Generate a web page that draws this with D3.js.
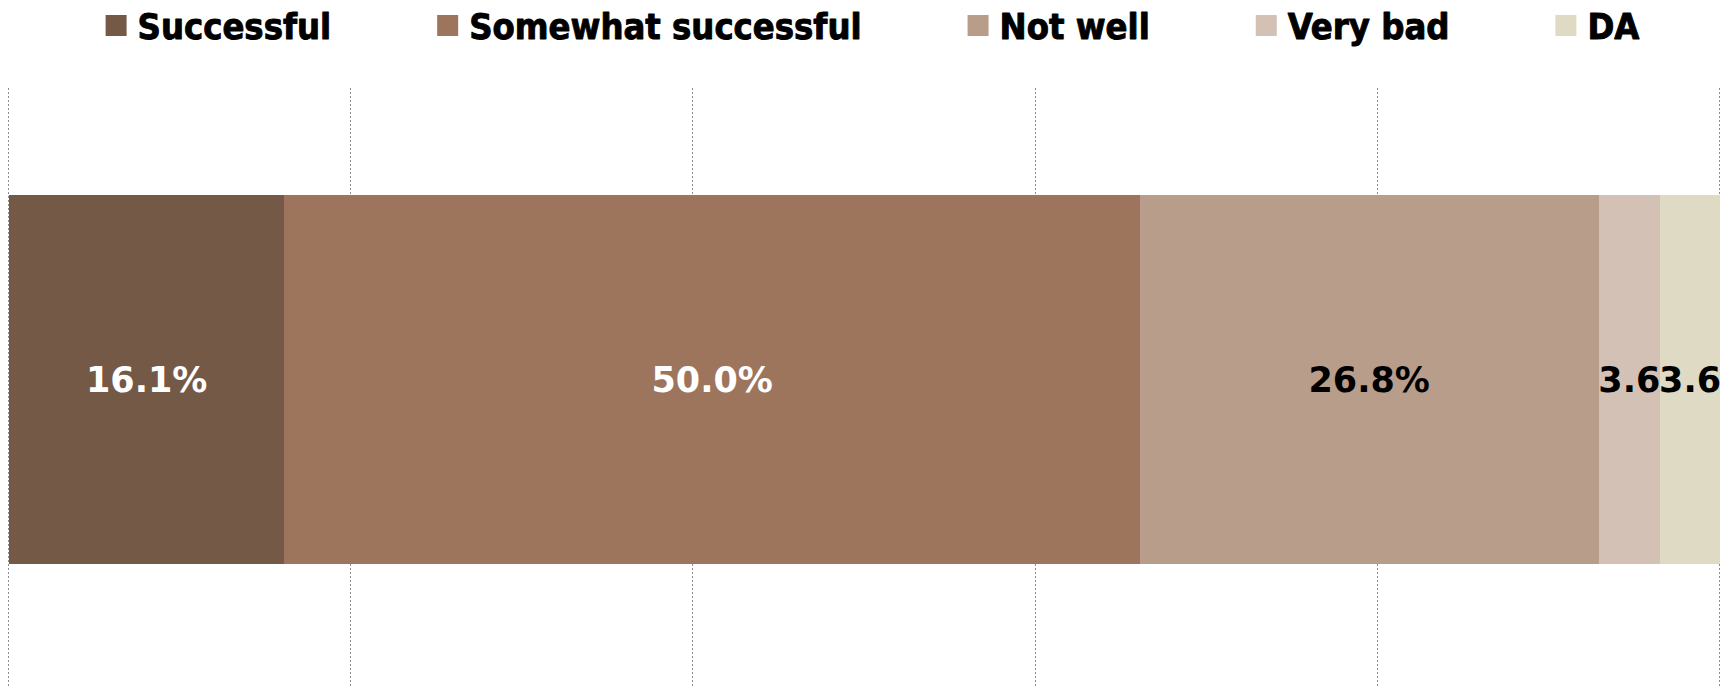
<!DOCTYPE html>
<html>
<head>
<meta charset="utf-8">
<script src="https://cdn.jsdelivr.net/npm/d3@7"></script>
<style>
  html, body { margin: 0; padding: 0; background: #ffffff; }
  svg { display: block; }
</style>
</head>
<body>
<svg id="chart" width="1731" height="688"></svg>
<script>
// Survey answers, one stacked 100% bar
const categories = ["Q"];
const seriesNames = ["Successful", "Somewhat successful", "Not well", "Very bad", "DA"];
const seriesValues = [16.1, 50.0, 26.8, 3.6, 3.6];
const seriesColors = ["#745947", "#9d755d", "#b99d8b", "#d4c1b5", "#dfdac4"];
const labelColors = ["#ffffff", "#ffffff", "#000000", "#000000", "#000000"];
const tickValues = [0, 20, 40, 60, 80, 100];

const W = 1731, H = 688;
const plot = { left: 9, right: 1720, top: 88, bottom: 688 };

const svg = d3.select("#chart");

const x = d3.scaleLinear().domain([0, 100]).range([plot.left, plot.right]);
const y = d3.scaleBand().domain(categories).range([plot.top, 671]).padding(0.225);

// vertical dotted gridlines
svg.append("g")
  .selectAll("line")
  .data(tickValues)
  .join("line")
  .attr("x1", d => Math.round(x(d)) - 0.5)
  .attr("x2", d => Math.round(x(d)) - 0.5)
  .attr("y1", plot.top)
  .attr("y2", plot.bottom)
  .attr("stroke", "#8c8c8c")
  .attr("stroke-width", 1)
  .attr("stroke-dasharray", "2,2");

// stacked segments
const segs = [];
let acc = 0;
seriesValues.forEach((v, i) => {
  segs.push({ name: seriesNames[i], value: v, x0: acc, x1: acc + v, i });
  acc += v;
});

svg.append("defs").append("clipPath").attr("id", "plotClip")
  .append("rect")
  .attr("x", x(0)).attr("y", 0)
  .attr("width", x(100) - x(0)).attr("height", H);

const px = v => Math.round(x(Math.min(v, 100)));
const bars = svg.append("g").attr("clip-path", "url(#plotClip)");
bars.selectAll("rect")
  .data(segs)
  .join("rect")
  .attr("x", d => px(d.x0))
  .attr("y", Math.round(y(categories[0])))
  .attr("width", d => px(d.x1) - px(d.x0))
  .attr("height", Math.round(y.bandwidth()))
  .attr("shape-rendering", "crispEdges")
  .attr("fill", d => seriesColors[d.i]);

// value labels
const fmt = d3.format(".1f");
svg.append("g")
  .selectAll("text")
  .data(segs)
  .join("text")
  .attr("x", d => (x(d.x0) + Math.min(x(d.x1), x(100))) / 2)
  .attr("y", y(categories[0]) + y.bandwidth() / 2)
  .attr("dy", "0.36em")
  .attr("text-anchor", "middle")
  .attr("font-family", "'DejaVu Sans', Verdana, sans-serif")
  .attr("font-weight", "bold")
  .attr("font-size", 35)
  .attr("fill", d => labelColors[d.i])
  .text(d => fmt(d.value) + ((x(d.x1) - x(d.x0)) > 100 ? "%" : ""));

// legend across the top
const legend = svg.append("g");
const sw = 21, gapText = 11, gapItem = 106;
const items = legend.selectAll("g")
  .data(seriesNames)
  .join("g");
items.append("rect")
  .attr("width", sw).attr("height", sw)
  .attr("y", 15)
  .attr("fill", (d, i) => seriesColors[i]);
items.append("text")
  .attr("x", sw + gapText)
  .attr("y", 39)
  .attr("font-family", "'DejaVu Sans Condensed', 'DejaVu Sans', sans-serif")
  .attr("font-weight", "bold")
  .attr("font-size", 36)
  .attr("fill", "#000000")
  .attr("stroke", "#000000")
  .attr("stroke-width", 0.9)
  .attr("stroke-linejoin", "round")
  .text(d => d);

const widths = [];
items.each(function () {
  widths.push(sw + gapText + d3.select(this).select("text").node().getComputedTextLength());
});
const total = d3.sum(widths) + gapItem * (widths.length - 1);
let cx = (W - total) / 2 + 7;
items.attr("transform", (d, i) => {
  const t = `translate(${cx},0)`;
  cx += widths[i] + gapItem;
  return t;
});
</script>
</body>
</html>
